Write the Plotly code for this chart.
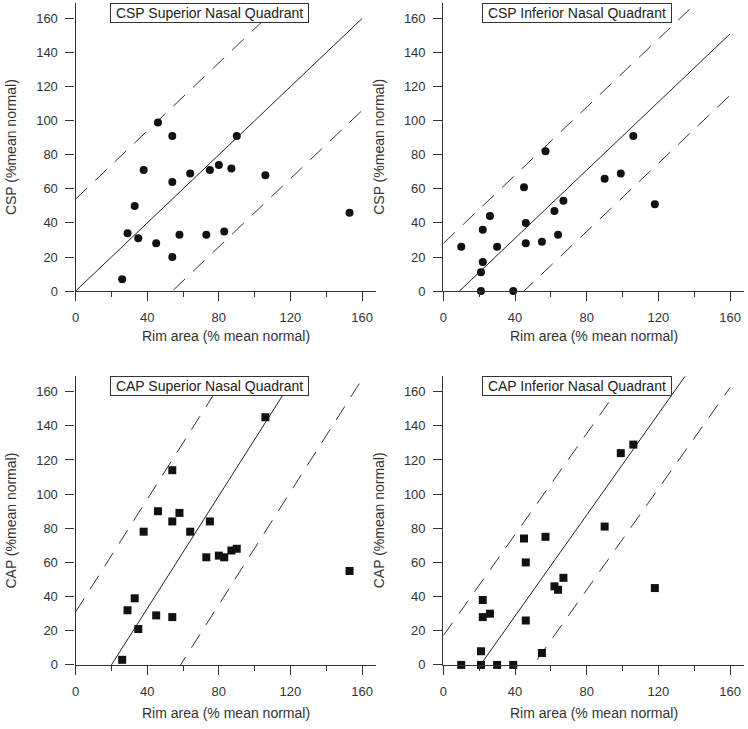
import plotly.graph_objects as go

# ---------------- data ----------------
rim_sup = [26, 29, 33, 35, 38, 45, 46, 54, 54, 54, 58, 64, 73, 75, 80, 83, 87, 90, 106, 153]
csp_sup = [7, 34, 50, 31, 71, 28, 99, 91, 64, 20, 33, 69, 33, 71, 74, 35, 72, 91, 68, 46]
cap_sup = [3, 32, 39, 21, 78, 29, 90, 114, 84, 28, 89, 78, 63, 84, 64, 63, 67, 68, 145, 55]

rim_inf_csp = [10, 21, 21, 22, 22, 26, 30, 39, 45, 46, 46, 55, 57, 62, 64, 67, 90, 99, 106, 118]
csp_inf = [26, 11, 0, 17, 36, 44, 26, 0, 61, 40, 28, 29, 82, 47, 33, 53, 66, 69, 91, 51]

rim_inf_cap = [10, 21, 21, 22, 22, 26, 30, 39, 45, 46, 46, 55, 57, 62, 64, 67, 90, 99, 106, 118]
cap_inf = [0, 0, 8, 28, 38, 30, 0, 0, 74, 60, 26, 7, 75, 46, 44, 51, 81, 124, 129, 45]

# regression line and limits: slope, intercepts (fit, upper, lower)
slopes = [1.0, 1.0, 1.65, 1.48]
fit_icpt = [0, -9, -33, -30.6]
upper_icpt = [54, 28, 31, 17.1]
lower_icpt = [-54, -45, -96.7, -74.4]
line_x = [0, 160]

titles = ["CSP Superior Nasal Quadrant", "CSP Inferior Nasal Quadrant",
          "CAP Superior Nasal Quadrant", "CAP Inferior Nasal Quadrant"]
ytitles = ["CSP (%mean normal)", "CSP (%mean normal)",
           "CAP (%mean normal)", "CAP (%mean normal)"]
xtitle = "Rim area (% mean normal)"
xs = [rim_sup, rim_inf_csp, rim_sup, rim_inf_cap]
ys = [csp_sup, csp_inf, cap_sup, cap_inf]
symbols = ["circle", "circle", "square", "square"]

# ---------------- layout geometry ----------------
W, H = 748, 729
XR = [0, 168]
YR = [0, 169]
xdom_px = [(72, 72 + 168 * 1.8), (441.7, 441.7 + 168 * 1.802)]
ydom_px = [(294.3, 294.3 - 169 * 1.7225), (672.3, 672.3 - 169 * 1.727)]

TXT = "#333333"
AX = "#333333"
FONT = "Liberation Sans, Arial, sans-serif"

fig = go.Figure()
layout = dict(width=W, height=H, margin=dict(l=0, r=0, t=0, b=0),
              paper_bgcolor="white", plot_bgcolor="white", showlegend=False,
              font=dict(family=FONT, color=TXT, size=13))
annotations = []

for i in range(4):
    r, c = divmod(i, 2)
    n = "" if i == 0 else str(i + 1)
    xa, ya = "x" + n, "y" + n
    xd = [xdom_px[c][0] / W, xdom_px[c][1] / W]
    yd = [1 - ydom_px[r][0] / H, 1 - ydom_px[r][1] / H]
    common = dict(showline=True, linecolor=AX, linewidth=1.3, ticks="outside",
                  ticklen=9, tickwidth=1.3, tickcolor=AX, showgrid=False,
                  zeroline=False, tickfont=dict(size=13, color=TXT, family=FONT))
    layout["xaxis" + n] = dict(domain=xd, range=XR, anchor=ya, tickvals=[0, 40, 80, 120, 160],
                               minor=dict(tickvals=[20, 60, 100, 140], ticklen=5, tickwidth=1.3,
                                          tickcolor=AX, ticks="outside"),
                               ticklabelstandoff=5, **common)
    layout["yaxis" + n] = dict(domain=yd, range=YR, anchor=xa,
                               tickvals=[0, 20, 40, 60, 80, 100, 120, 140, 160],
                               ticklabelstandoff=5, **common)

    s, f, u, l = slopes[i], fit_icpt[i], upper_icpt[i], lower_icpt[i]
    fig.add_trace(go.Scatter(x=line_x, y=[s * v + f for v in line_x], mode="lines",
                             line=dict(color="#222222", width=1), xaxis=xa, yaxis=ya,
                             hoverinfo="skip"))
    for icpt in (u, l):
        fig.add_trace(go.Scatter(x=line_x, y=[s * v + icpt for v in line_x], mode="lines",
                                 line=dict(color="#333333", width=1, dash="16px,11px"),
                                 xaxis=xa, yaxis=ya, hoverinfo="skip"))
    fig.add_trace(go.Scatter(x=xs[i], y=ys[i], mode="markers", cliponaxis=False,
                             marker=dict(symbol=symbols[i], size=8, color="#111111",
                                         line=dict(width=0)),
                             xaxis=xa, yaxis=ya))

    # title box
    annotations.append(dict(text="\u00a0" + titles[i] + "\u00a0", xref=xa, yref=ya,
                            x=74.8, y=163.2,
                            xanchor="center", yanchor="middle", showarrow=False,
                            font=dict(size=14, color="#222222", family=FONT),
                            bgcolor="white", bordercolor="#333333", borderwidth=1,
                            borderpad=1))
    # x title
    xc = (xdom_px[c][0] + xdom_px[c][1]) / 2
    ty = 340 if r == 0 else 721
    annotations.append(dict(text=xtitle, xref="paper", yref="paper", x=xc / W, y=1 - ty / H,
                            xanchor="center", yanchor="middle", showarrow=False,
                            font=dict(size=14, color=TXT, family=FONT)))
    # y title
    yc = (ydom_px[r][0] + ydom_px[r][1]) / 2
    tx = 7 if c == 0 else 7 + 369.7
    annotations.append(dict(text=ytitles[i], xref="paper", yref="paper", x=tx / W, y=1 - yc / H,
                            xanchor="center", yanchor="middle", showarrow=False, textangle=-90,
                            font=dict(size=14, color=TXT, family=FONT)))

layout["annotations"] = annotations
fig.update_layout(**layout)
fig.write_html("out.html", config={"displayModeBar": False},
               post_script="document.body.style.margin='0';document.body.style.overflow='hidden';")
